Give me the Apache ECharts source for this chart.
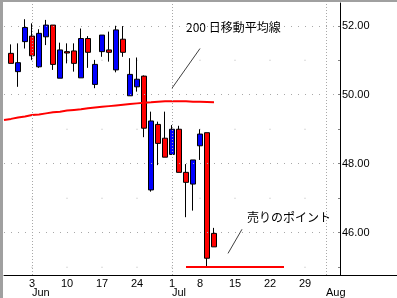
<!DOCTYPE html>
<html><head><meta charset="utf-8">
<script src="https://cdn.jsdelivr.net/npm/echarts@6/dist/echarts.min.js"></script>
<style>html,body{margin:0;padding:0;background:#fff}#c{width:397px;height:298px}</style>
</head><body><div id="c"></div>
<script>
// trading-day categories (x axis)
const dates = ['2002-05-28','2002-05-29','2002-05-30','2002-05-31','2002-06-03','2002-06-04','2002-06-05','2002-06-06','2002-06-07',
'2002-06-10','2002-06-11','2002-06-12','2002-06-13','2002-06-14','2002-06-17','2002-06-18','2002-06-19','2002-06-20','2002-06-21',
'2002-06-24','2002-06-25','2002-06-26','2002-06-27','2002-06-28','2002-07-01','2002-07-02','2002-07-03','2002-07-05',
'2002-07-08','2002-07-09','2002-07-10','2002-07-11','2002-07-12','2002-07-15','2002-07-16','2002-07-17','2002-07-18','2002-07-19',
'2002-07-22','2002-07-23','2002-07-24','2002-07-25','2002-07-26','2002-07-29','2002-07-30','2002-07-31','2002-08-01','2002-08-02','2002-08-05'];
const monthNames = ['Jan','Feb','Mar','Apr','May','Jun','Jul','Aug','Sep','Oct','Nov','Dec'];

// candles
const candleDates = dates.slice(1, 31);
const opens  = [51.20,50.67,51.54,51.70,50.81,51.68,52.02,50.48,51.25,51.27,50.49,51.63,50.30,51.25,51.30,50.72,51.61,49.97,50.23,50.54,47.24,49.14,48.74,48.27,49.00,47.75,47.41,48.52,48.90,45.98];
const closes = [50.91,50.93,51.95,51.13,51.78,52.02,50.88,51.30,51.21,50.91,51.63,51.23,50.88,51.73,51.23,51.88,51.23,50.59,50.45,49.03,49.24,48.59,48.19,49.00,47.75,47.46,48.11,48.86,45.26,45.59];
const lows   = [50.91,50.23,51.34,51.01,50.78,51.44,50.72,50.48,50.91,50.67,50.49,50.78,50.19,51.10,50.96,50.65,51.10,49.97,50.09,48.77,47.19,47.96,48.19,48.27,47.75,46.45,46.64,48.11,45.01,45.59];
const highs  = [51.46,51.49,52.19,52.07,51.90,52.17,52.02,51.51,51.49,51.49,51.92,51.70,51.01,51.73,51.83,52.00,51.99,51.06,51.08,50.56,49.51,49.22,49.51,49.12,49.10,47.99,48.11,49.00,48.90,46.14];

// 200-day moving average
const maDates = dates.slice(0, 31);
const maValues = [49.27,49.30,49.34,49.37,49.41,49.43,49.46,49.49,49.51,49.54,49.56,49.58,49.61,49.63,49.65,49.67,49.69,49.71,49.73,49.75,49.77,49.78,49.80,49.81,49.81,49.81,49.81,49.80,49.80,49.79,49.78];

// y ticks
const yLabelValues = [46, 48, 50, 52];
const yTickValues = [45, 46, 47, 48, 49, 50, 51, 52];
const yMinorValues = [45, 47, 49, 51];

// annotations
const maLabel = '200 日移動平均線';
const sellLabel = '売りのポイント';
const supportLevel = 45.01;

const FONT = 'Liberation Sans';
const isMonday = i => new Date(dates[i] + 'T00:00:00Z').getUTCDay() === 1;
const isMonthStart = i => i > 0 && dates[i].slice(5,7) !== dates[i-1].slice(5,7);

const candleData = dates.map(d => {
  const k = candleDates.indexOf(d);
  return k < 0 ? '-' : [opens[k], closes[k], lows[k], highs[k]];
});
const maData = dates.map(d => {
  const k = maDates.indexOf(d);
  return k < 0 ? '-' : maValues[k];
});
const dotData = [];
dates.forEach((d, i) => { if (isMonday(i) && i < dates.length - 1) yMinorValues.forEach(v => dotData.push([d, v])); });

const gridLines = [];
yLabelValues.forEach(v => gridLines.push({yAxis: v, lineStyle: {color: '#a8a8a8', width: 1, type: [1, 6]}}));
dates.forEach((d, i) => { if (isMonthStart(i)) gridLines.push({xAxis: d, lineStyle: {color: '#a8a8a8', width: 1, type: [1, 2]}}); });

const chart = echarts.init(document.getElementById('c'), null, {renderer: 'canvas'});
chart.setOption({
  animation: false,
  backgroundColor: '#fff',
  grid: {left: 4, right: 57, top: 3, bottom: 23, containLabel: false},
  xAxis: [{
    type: 'category', data: dates, boundaryGap: false, position: 'bottom',
    axisLine: {show: true, lineStyle: {color: '#000', width: 1}},
    axisTick: {show: false}, splitLine: {show: false},
    axisLabel: {
      interval: (i) => isMonday(i) && i < dates.length - 1,
      formatter: v => String(parseInt(v.slice(8), 10)),
      margin: 3, color: '#000', fontFamily: FONT, fontSize: 11, hideOverlap: false
    }
  }, {
    type: 'category', data: dates, boundaryGap: false, position: 'bottom', offset: 0,
    axisLine: {show: false}, axisTick: {show: false}, splitLine: {show: false},
    axisLabel: {
      interval: (i) => isMonthStart(i),
      formatter: v => monthNames[parseInt(v.slice(5,7), 10) - 1],
      align: 'left', margin: 12, color: '#000', fontFamily: FONT, fontSize: 11, hideOverlap: false
    }
  }],
  yAxis: {
    type: 'value', position: 'right', min: 44.774, max: 52.66,
    axisLine: {show: true, lineStyle: {color: '#000', width: 1}},
    axisTick: {show: true, inside: true, length: 2, customValues: yTickValues, lineStyle: {color: '#808080'}},
    axisLabel: {customValues: yLabelValues, formatter: v => v.toFixed(2), margin: 2, color: '#000', fontFamily: FONT, fontSize: 11},
    splitLine: {show: false}
  },
  series: [{
    type: 'line', name: 'grid', data: [], z: 1, silent: true,
    markLine: {symbol: 'none', silent: true, label: {show: false}, data: gridLines, animation: false}
  }, {
    type: 'scatter', name: 'dots', data: dotData, z: 1, silent: true,
    symbol: 'rect', symbolSize: 1, itemStyle: {color: '#a8a8a8'}
  }, {
    type: 'candlestick', name: 'price', data: candleData, z: 3, barWidth: 5,
    itemStyle: {color: '#0000ff', color0: '#ff0000', borderColor: '#000', borderColor0: '#000', borderColorDoji: '#000', borderWidth: 1}
  }, {
    type: 'line', name: 'MA200', data: maData, z: 4, symbol: 'none', silent: true,
    lineStyle: {color: '#ff0000', width: 2},
    markLine: {
      symbol: 'none', silent: true, label: {show: false}, animation: false,
      data: [
        [{coord: [23.7, 50.19], lineStyle: {color: '#404040', width: 1, type: 'solid'}}, {coord: [28.33, 51.34]}],
        [{coord: [31.67, 45.40], lineStyle: {color: '#404040', width: 1, type: 'solid'}}, {coord: [34.33, 46.10]}],
        [{coord: [26.14, supportLevel], lineStyle: {color: '#ff0000', width: 2, type: 'solid'}}, {coord: [40.29, supportLevel]}]
      ]
    }
  }],
  graphic: [
    {type: 'text', left: 186, top: 21, style: {text: maLabel, fill: '#000', font: '12px "Noto Sans CJK JP"'}},
    {type: 'text', left: 247, top: 211, style: {text: sellLabel, fill: '#000', font: '12px "Noto Sans CJK JP"'}},
    {type: 'line', shape: {x1: 340, y1: 275.5, x2: 397, y2: 275.5}, style: {stroke: '#000', lineWidth: 1}},
    {type: 'rect', shape: {x: 0, y: 0, width: 3, height: 298}, style: {fill: '#a0a0a0'}},
    {type: 'rect', shape: {x: 0, y: 0, width: 397, height: 2}, style: {fill: '#a0a0a0'}}
  ]
});
</script></body></html>
